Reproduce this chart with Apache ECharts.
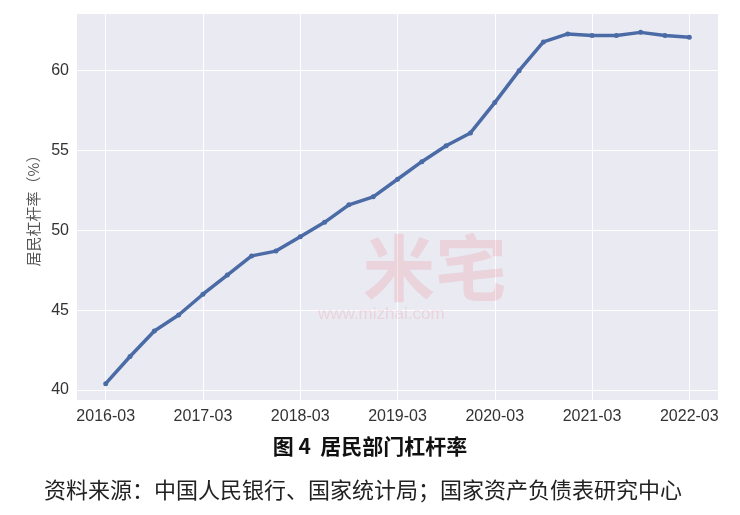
<!DOCTYPE html>
<html><head><meta charset="utf-8">
<script src="https://cdn.jsdelivr.net/npm/echarts@6/dist/echarts.min.js"></script>
<style>html,body{margin:0;padding:0;background:#fff}#c{width:740px;height:515px}</style>
</head><body><div id="c"></div>
<script>
const categories = ['2016-03','2016-06','2016-09','2016-12','2017-03','2017-06','2017-09','2017-12','2018-03','2018-06','2018-09','2018-12','2019-03','2019-06','2019-09','2019-12','2020-03','2020-06','2020-09','2020-12','2021-03','2021-06','2021-09','2021-12','2022-03'];
const leverage = [40.4,42.1,43.7,44.7,46.0,47.2,48.4,48.7,49.6,50.5,51.6,52.1,53.2,54.3,55.3,56.1,58.0,60.0,61.8,62.3,62.2,62.2,62.4,62.2,62.1];
const yTicks = [40,45,50,55,60];
const titleText = '图 4  居民部门杠杆率';
const sourceText = '资料来源：中国人民银行、国家统计局；国家资产负债表研究中心';
const yName = '居民杠杆率（%）';

const yMin = 39.375, yMax = 63.55;
const chart = echarts.init(document.getElementById('c'));
chart.setOption({
  animation: false,
  grid: [
    {left: 77, right: 22, top: 14, bottom: 115, show: true, backgroundColor: '#eaeaf2', borderWidth: 0},
    {left: 105.7, right: 50.7, top: 14, bottom: 115, show: false}
  ],
  xAxis: [
    {gridIndex: 0, type: 'value', min: 0, max: 1, show: false},
    {gridIndex: 1, type: 'category', data: categories, boundaryGap: false,
     axisLine: {show: false}, axisTick: {show: false},
     axisLabel: {interval: 3, color: '#333', fontSize: 16, fontFamily: 'Liberation Sans, Arial', margin: 9},
     splitLine: {show: true, interval: 3, lineStyle: {color: '#ffffff', width: 1}}}
  ],
  yAxis: [
    {gridIndex: 0, type: 'value', min: yMin, max: yMax,
     axisLine: {show: false},
     axisTick: {show: false, customValues: yTicks},
     axisLabel: {color: '#333', fontSize: 16, fontFamily: 'Liberation Sans, Arial', margin: 8,
       customValues: yTicks},
     splitLine: {show: true, lineStyle: {color: '#ffffff', width: 1}},
     name: yName, nameLocation: 'middle', nameGap: 35, nameRotate: 90,
     nameTextStyle: {color: '#555', fontSize: 15, fontFamily: 'Noto Sans CJK SC'}},
    {gridIndex: 1, type: 'value', min: yMin, max: yMax, show: false, splitLine: {show: false}}
  ],
  graphic: [
    {type: 'text', left: 363, top: 232, z: 1, style: {text: '米宅', fontSize: 72, fontFamily: 'Noto Sans CJK SC', fontWeight: 'bold', fill: 'rgba(235,120,130,0.2)'}},
    {type: 'text', left: 318, top: 306, z: 1, style: {text: 'www.mizhai.com', fontSize: 17, fontFamily: 'Liberation Sans, Arial', fill: 'rgba(235,120,130,0.2)'}},
    {type: 'text', left: 'center', top: 436, style: {text: titleText, fontSize: 21, fontWeight: 'bold', fontFamily: 'Noto Sans CJK SC', fill: '#111'}},
    {type: 'text', left: 44, top: 479, style: {text: sourceText, fontSize: 22, fontFamily: 'Noto Sans CJK SC', fill: '#222'}}
  ],
  series: [{
    type: 'line', xAxisIndex: 1, yAxisIndex: 1, data: leverage, z: 5,
    symbol: 'circle', symbolSize: 5,
    lineStyle: {color: '#4a6ba6', width: 3.5},
    itemStyle: {color: '#4a6ba6'}
  }]
});
</script></body></html>
